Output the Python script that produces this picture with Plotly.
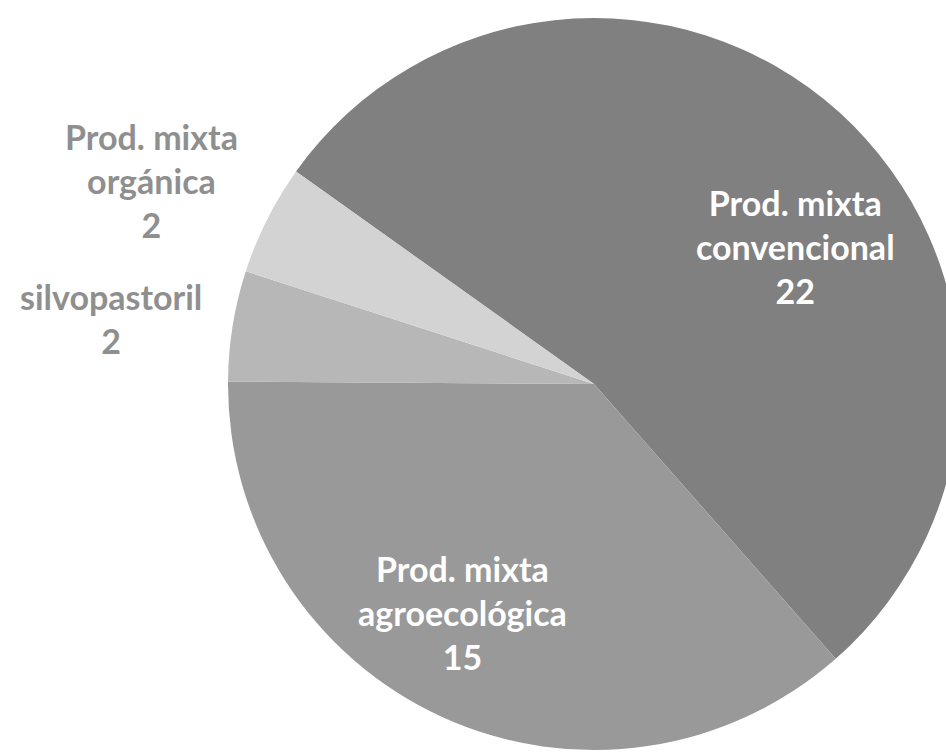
import plotly.graph_objects as go

labels = ["Prod. mixta<br>convencional", "Prod. mixta<br>agroecológica", "silvopastoril", "Prod. mixta<br>orgánica"]
values = [22, 15, 2, 2]
colors = ["#808080", "#999999", "#b7b7b7", "#d3d3d3"]
label_colors = ["#ffffff", "#ffffff", "#8f8f8f", "#8f8f8f"]

W, H = 960, 754
# label centres in pixels (layout only)
label_px = [(795, 246), (462, 612), (111, 318), (151, 180)]

fig = go.Figure(go.Pie(
    labels=labels,
    values=values,
    marker=dict(colors=colors, line=dict(width=0)),
    sort=False,
    direction="clockwise",
    rotation=-54.5,
    textinfo="none",
    hoverinfo="label+value",
    showlegend=False,
    domain=dict(x=[228 / W, 1.0], y=[4 / H, 736 / H]),
))

for lab, val, col, (px, py) in zip(labels, values, label_colors, label_px):
    fig.add_annotation(
        x=px / W, y=1 - py / H, xref="paper", yref="paper",
        text=f"<b>{lab}<br>{val}</b>", showarrow=False,
        xanchor="center", yanchor="middle", align="center",
        font=dict(family="Lato, 'Open Sans', sans-serif", size=34, color=col),
    )

fig.update_layout(
    width=W, height=H,
    margin=dict(l=0, r=0, t=0, b=0),
    paper_bgcolor="white", plot_bgcolor="white",
)

fig.write_html(
    "out.html",
    config={"displayModeBar": False},
    post_script="document.body.style.margin='0';document.body.style.overflow='hidden';",
)
